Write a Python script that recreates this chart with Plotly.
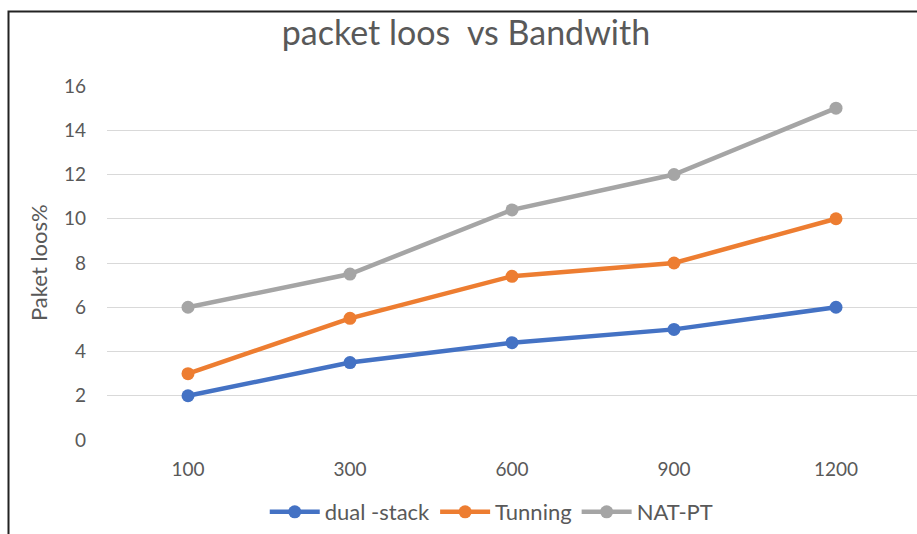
import plotly.graph_objects as go

# Bandwidth categories and packet-loss series
bandwidth = ["100", "300", "600", "900", "1200"]
dual_stack = [2, 3.5, 4.4, 5, 6]
tunning = [3, 5.5, 7.4, 8, 10]
nat_pt = [6, 7.5, 10.4, 12, 15]
y_ticks = [0, 2, 4, 6, 8, 10, 12, 14, 16]

series = [
    ("dual -stack", dual_stack, "#4472C4"),
    ("Tunning", tunning, "#ED7D31"),
    ("NAT-PT", nat_pt, "#A5A5A5"),
]

W, H = 917, 534
L, R, T, B = 107, 0, 86, 94
FONT = "Lato, Open Sans, sans-serif"
GREY = "#595959"

fig = go.Figure()
for name, vals, color in series:
    fig.add_trace(go.Scatter(
        x=bandwidth, y=vals, name=name, mode="lines+markers",
        line=dict(color=color, width=4.5),
        marker=dict(color=color, size=13),
    ))

fig.update_layout(
    width=W, height=H,
    margin=dict(l=L, r=R, t=T, b=B),
    paper_bgcolor="white", plot_bgcolor="white",
    font=dict(family=FONT, color=GREY, size=19),
    title=dict(text="packet loos  vs Bandwith", x=466 / W, xanchor="center",
               y=1 - 33 / H, yanchor="middle",
               font=dict(size=34, color=GREY, family=FONT)),
    xaxis=dict(type="category", range=[-0.5, 4.5], showgrid=False,
               zeroline=False, showline=False, ticks="",
               ticklabelstandoff=16,
               tickfont=dict(size=19, color=GREY)),
    yaxis=dict(range=[0, 16], tickvals=y_ticks, showgrid=True,
               gridcolor="#D9D9D9", gridwidth=1.3, zeroline=False,
               showline=False, ticks="", ticklabelstandoff=20,
               tickfont=dict(size=19, color=GREY)),
    legend=dict(orientation="h", x=0.475, xanchor="center",
                y=-(512 - 440) / (440 - 86), yanchor="middle",
                font=dict(size=22, color=GREY),
                itemwidth=50, tracegroupgap=0),
    showlegend=True,
)

# rotated axis title placed at the left of the plot
fig.add_annotation(text="Paket loos%", xref="paper", yref="paper",
                   x=(38 - L) / (W - L - R), y=(H - B - 263) / (H - T - B),
                   xanchor="center", yanchor="middle", textangle=-90,
                   showarrow=False, font=dict(size=22, color=GREY, family=FONT))

# frame around the chart area (left and top edges visible)
ph = H - T - B
pw = W - L - R
fig.add_shape(type="rect", xref="paper", yref="paper",
              x0=(8.5 - L) / pw, x1=(W + 20 - L) / pw,
              y0=-(H + 20 - (H - B)) / ph, y1=(H - B - 11.5) / ph,
              line=dict(color="#222222", width=2), layer="above")

fig.write_html("out.html")
